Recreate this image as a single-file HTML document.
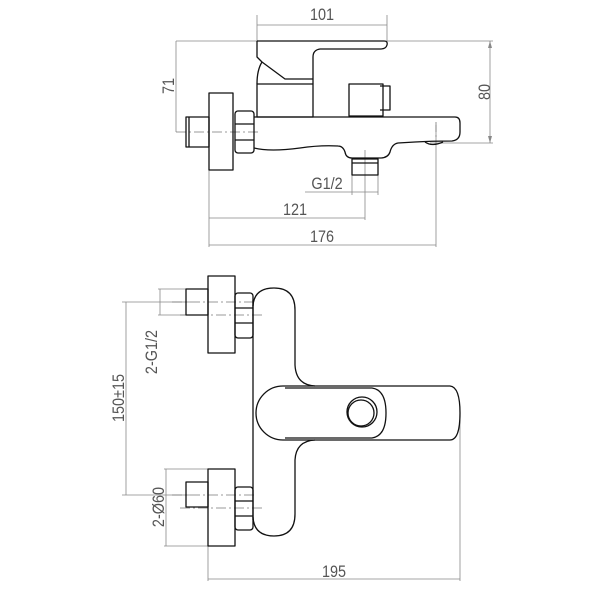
<!DOCTYPE html>
<html><head><style>body{margin:0;background:#fff}svg{display:block}</style></head><body>
<svg width="600" height="600" viewBox="0 0 600 600" xmlns="http://www.w3.org/2000/svg" font-family="Liberation Sans, sans-serif">
<g stroke="#888" stroke-width="0.8" fill="none">
<line x1="257" y1="25" x2="387" y2="25"/><line x1="257" y1="15" x2="257" y2="42"/><line x1="387" y1="15" x2="387" y2="42"/>
<line x1="176" y1="41" x2="493" y2="41"/>
<line x1="176" y1="41" x2="176" y2="132"/>
<line x1="490" y1="41" x2="490" y2="143"/><line x1="430" y1="143" x2="493" y2="143"/>
<line x1="305" y1="192" x2="378" y2="192"/><line x1="352" y1="175" x2="352" y2="195"/><line x1="378" y1="175" x2="378" y2="195"/>
<line x1="209" y1="218" x2="365" y2="218"/><line x1="365" y1="150" x2="365" y2="220"/>
<line x1="209" y1="245" x2="436" y2="245"/><line x1="436" y1="125" x2="436" y2="247"/><line x1="209" y1="170" x2="209" y2="247"/>
<line x1="126" y1="302" x2="126" y2="495"/><line x1="122" y1="302" x2="190" y2="302"/><line x1="122" y1="495" x2="190" y2="495"/>
<line x1="160" y1="289" x2="160" y2="315"/><line x1="158" y1="289" x2="188" y2="289"/><line x1="158" y1="315" x2="188" y2="315"/>
<line x1="166" y1="469" x2="166" y2="546"/><line x1="164" y1="469" x2="208" y2="469"/><line x1="164" y1="546" x2="208" y2="546"/>
<line x1="208" y1="546" x2="208" y2="581"/><line x1="460" y1="420" x2="460" y2="581"/><line x1="208" y1="579" x2="460" y2="579"/>
</g>
<g stroke="#777" stroke-width="0.8" stroke-dasharray="10 3 2 3" fill="none">
<line x1="176" y1="132" x2="258" y2="132"/>
<line x1="436" y1="122" x2="436" y2="140"/>
<line x1="172" y1="302" x2="255" y2="302"/><line x1="180" y1="315" x2="265" y2="315"/>
<line x1="172" y1="495" x2="255" y2="495"/><line x1="180" y1="508" x2="262" y2="508"/>
</g>
<g fill="#888"><polygon points="490,41 488,48 492,48"/><polygon points="490,143 488,136 492,136"/></g>
<g stroke="#111" stroke-width="1.3" fill="none" stroke-linejoin="round">
<path d="M257,41 H384 Q388,41 387,45 Q386,49 380,49 H320 Q313,50 313,57 V84"/>
<path d="M257,41 V57 L262,62 L285,79 H313"/>
<path d="M262,62 Q257,70 257,84"/>
<rect x="257" y="84" width="56" height="33"/>
<rect x="349" y="84" width="34" height="32"/><path d="M380,86 H390 V110 H380"/>
<path d="M254,117 H455 Q460,117 460,123 V132 Q460,140 452,141 Q430,141 415,142 L398,143 Q392,144 390,152 Q388,158 380,158 H352 Q346,158 345,152 Q343,146 338,146 Q320,145 300,148 Q270,152 254,148"/>
<path d="M425,142 Q432,147 443,142"/>
<rect x="352" y="159" width="26" height="16"/><line x1="352" y1="163" x2="378" y2="163"/>
<rect x="235" y="111" width="19" height="42" rx="3"/><line x1="235" y1="124" x2="254" y2="124"/><line x1="235" y1="140" x2="254" y2="140"/>
<rect x="209" y="93" width="24" height="77"/>
<rect x="186" y="117" width="23" height="30"/><line x1="189" y1="117" x2="189" y2="147"/>
<rect x="208" y="276" width="27" height="77"/>
<rect x="186" y="289" width="22" height="26"/>
<rect x="235" y="293" width="18" height="45" rx="3"/><line x1="235" y1="308" x2="253" y2="308"/><line x1="235" y1="323" x2="253" y2="323"/>
<rect x="208" y="469" width="27" height="77"/>
<rect x="186" y="482" width="22" height="25"/>
<rect x="235" y="487" width="18" height="43" rx="3"/><line x1="235" y1="501" x2="253" y2="501"/><line x1="235" y1="516" x2="253" y2="516"/>
<path d="M253,300 V520"/>
<path d="M253,306 Q254,288 274,288 Q295,288 295,310 V365 Q296,385 315,386"/>
<path d="M253,517 Q254,536 274,536 Q295,536 295,514 V460 Q296,441 315,440"/>
<path d="M283,386 H450 Q460,387 460,413 Q460,440 450,440 H283 A27,27 0 0 1 283,386 Z"/>
<path d="M285,388 H372 Q386,390 386,413 Q386,436 372,438 H285"/>
<circle cx="362" cy="412" r="15"/><circle cx="361" cy="413" r="13"/>
</g>
<g fill="#555" font-size="17">
<text transform="translate(322,20) scale(0.85,1)" text-anchor="middle">101</text>
<text transform="translate(322,242) scale(0.85,1)" text-anchor="middle">176</text>
<text transform="translate(295,215) scale(0.85,1)" text-anchor="middle">121</text>
<text transform="translate(327,189) scale(0.85,1)" text-anchor="middle">G1/2</text>
<text transform="translate(334,577) scale(0.85,1)" text-anchor="middle">195</text>
<text transform="translate(174,86) rotate(-90) scale(0.85,1)" text-anchor="middle">71</text>
<text transform="translate(490,92) rotate(-90) scale(0.85,1)" text-anchor="middle">80</text>
<text transform="translate(124,398) rotate(-90) scale(0.85,1)" text-anchor="middle">150±15</text>
<text transform="translate(157,352) rotate(-90) scale(0.85,1)" text-anchor="middle">2-G1/2</text>
<text transform="translate(164,507) rotate(-90) scale(0.85,1)" text-anchor="middle">2-Ø60</text>
</g>
</svg>
</body></html>
